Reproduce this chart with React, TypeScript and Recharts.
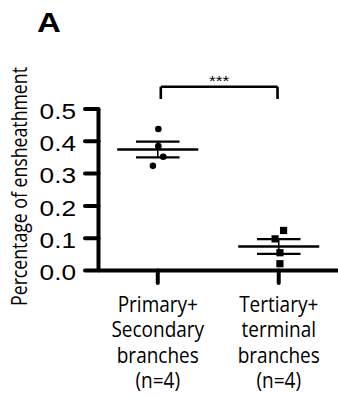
import React from 'react';
import { ComposedChart, Scatter, XAxis, YAxis, ReferenceLine, ReferenceDot, Label } from 'recharts';

const panelLetter = 'A';
const yAxisTitle = 'Percentage of ensheathment';
const categoryPositions = [1, 2];
const categoryLabels = [
  ['Primary+', 'Secondary', 'branches', '(n=4)'],
  ['Tertiary+', 'terminal', 'branches', '(n=4)'],
];
const primaryValues = [0.438, 0.385, 0.352, 0.324];
const primaryX = [1.005, 1.005, 1.045, 0.96];
const tertiaryValues = [0.124, 0.098, 0.055, 0.021];
const tertiaryX = [2.04, 1.97, 2.01, 2.01];
const yTicks = [0, 0.1, 0.2, 0.3, 0.4, 0.5];
const significanceText = '***';
const bracketTop = 0.569;
const bracketBottom = 0.531;
const bracketFrom = 1.025;
const bracketTo = 1.99;

const mean = (v: number[]) => v.reduce((a, b) => a + b, 0) / v.length;
const sem = (v: number[]) => {
  const m = mean(v);
  const sd = Math.sqrt(v.reduce((a, b) => a + (b - m) * (b - m), 0) / (v.length - 1));
  return sd / Math.sqrt(v.length);
};

const primaryData = primaryValues.map((y, i) => ({ x: primaryX[i], y }));
const tertiaryData = tertiaryValues.map((y, i) => ({ x: tertiaryX[i], y }));

const groups = [
  { pos: categoryPositions[0], m: mean(primaryValues), s: sem(primaryValues) },
  { pos: categoryPositions[1], m: mean(tertiaryValues), s: sem(tertiaryValues) },
];

const MEAN_HALF = 0.335;
const SEM_HALF = 0.18;

const Circle = (p: any) => <circle cx={p.cx} cy={p.cy} r={3.3} fill="#000" />;
const Square = (p: any) => <rect x={p.cx - 3.6} y={p.cy - 3.6} width={7.2} height={7.2} fill="#000" />;

const XTick = (props: any) => {
  const { x, y, payload } = props;
  const idx = categoryPositions.indexOf(payload.value);
  const lines = categoryLabels[idx] ?? [];
  return (
    <g>
      {lines.map((l, i) => (
        <g key={i} transform={`translate(${x},${y + 28.7 + i * 25.5}) scale(1,1.13)`}>
          <text x={0} y={0} textAnchor="middle" fontFamily="'Open Sans', sans-serif" fontSize={19} fill="#000">
            {l}
          </text>
        </g>
      ))}
    </g>
  );
};

const YTick = (props: any) => {
  const { x, y, payload } = props;
  return (
    <g transform={`translate(${x},${y + 9.6}) scale(1.22,1)`}>
      <text textAnchor="end" fontFamily="'Liberation Sans', Arial, sans-serif" fontSize={21.5} fill="#000">
        {Number(payload.value).toFixed(1)}
      </text>
    </g>
  );
};

const YTitle = () => {
  return (
    <g transform={`translate(26.5,186.5) rotate(-90) scale(1,1.19)`}>
      <text textAnchor="middle" fontFamily="'Open Sans', sans-serif" fontSize={17.7} fill="#000">
        {yAxisTitle}
      </text>
    </g>
  );
};

const Stars = (p: any) => (
  <g transform={`translate(${p.cx},${p.cy - 0.5}) scale(1.25,1)`}>
    <text textAnchor="middle" fontFamily="'Liberation Sans', Arial, sans-serif" fontSize={14} fill="#000">
      {significanceText}
    </text>
  </g>
);

export default function App() {
  return (
    <div style={{ position: 'absolute', left: 0, top: 0, width: 338, height: 398, background: '#fff', overflow: 'hidden' }}>
      <div
        style={{
          position: 'absolute',
          left: 37,
          top: 8.6,
          fontFamily: "'Liberation Sans', Arial, sans-serif",
          fontWeight: 700,
          fontSize: 27.5,
          lineHeight: 1,
          transform: 'scaleX(1.2)',
          transformOrigin: 'left top',
          color: '#000',
        }}
      >
        {panelLetter}
      </div>
      <ComposedChart width={338} height={398} margin={{ top: 109, right: 0, bottom: 7.5, left: 0 }}>
        <XAxis
          type="number"
          dataKey="x"
          domain={[0.51, 2.49]}
          ticks={categoryPositions}
          interval={0}
          height={120}
          tickSize={12.5}
          tickMargin={0}
          tick={<XTick />}
          axisLine={{ stroke: '#000', strokeWidth: 4 }}
          tickLine={{ stroke: '#000', strokeWidth: 4, strokeLinecap: 'round' }}
          allowDataOverflow
        />
        <YAxis
          type="number"
          dataKey="y"
          domain={[0, 0.5]}
          ticks={yTicks}
          interval={0}
          width={98.5}
          tickSize={13.5}
          tickMargin={9}
          tick={<YTick />}
          axisLine={{ stroke: '#000', strokeWidth: 4 }}
          tickLine={{ stroke: '#000', strokeWidth: 4, strokeLinecap: 'round' }}
          allowDataOverflow
        >
          <Label content={<YTitle />} />
        </YAxis>
        {groups.map((g, i) => (
          <ReferenceLine
            key={`m${i}`}
            segment={[{ x: g.pos - MEAN_HALF, y: g.m }, { x: g.pos + MEAN_HALF, y: g.m }]}
            stroke="#000"
            strokeWidth={2.6}
            ifOverflow="visible"
          />
        ))}
        {groups.map((g, i) => (
          <ReferenceLine
            key={`su${i}`}
            segment={[{ x: g.pos - SEM_HALF, y: g.m + g.s }, { x: g.pos + SEM_HALF, y: g.m + g.s }]}
            stroke="#000"
            strokeWidth={2.2}
            ifOverflow="visible"
          />
        ))}
        {groups.map((g, i) => (
          <ReferenceLine
            key={`sl${i}`}
            segment={[{ x: g.pos - SEM_HALF, y: g.m - g.s }, { x: g.pos + SEM_HALF, y: g.m - g.s }]}
            stroke="#000"
            strokeWidth={2.2}
            ifOverflow="visible"
          />
        ))}
        {groups.map((g, i) => (
          <ReferenceLine
            key={`sv${i}`}
            segment={[{ x: g.pos, y: g.m - g.s }, { x: g.pos, y: g.m + g.s }]}
            stroke="#000"
            strokeWidth={1.6}
            ifOverflow="visible"
          />
        ))}
        <ReferenceLine
          segment={[{ x: bracketFrom, y: bracketTop }, { x: bracketTo, y: bracketTop }]}
          stroke="#000"
          strokeWidth={2.6}
          ifOverflow="visible"
        />
        <ReferenceLine
          segment={[{ x: bracketFrom, y: bracketTop }, { x: bracketFrom, y: bracketBottom }]}
          stroke="#000"
          strokeWidth={2.6}
          ifOverflow="visible"
        />
        <ReferenceLine
          segment={[{ x: bracketTo, y: bracketTop }, { x: bracketTo, y: bracketBottom }]}
          stroke="#000"
          strokeWidth={2.6}
          ifOverflow="visible"
        />
        <ReferenceDot x={(bracketFrom + bracketTo) / 2} y={bracketTop} r={0} ifOverflow="visible" shape={<Stars />} />
        <Scatter data={primaryData} shape={<Circle />} isAnimationActive={false} />
        <Scatter data={tertiaryData} shape={<Square />} isAnimationActive={false} />
      </ComposedChart>
    </div>
  );
}
